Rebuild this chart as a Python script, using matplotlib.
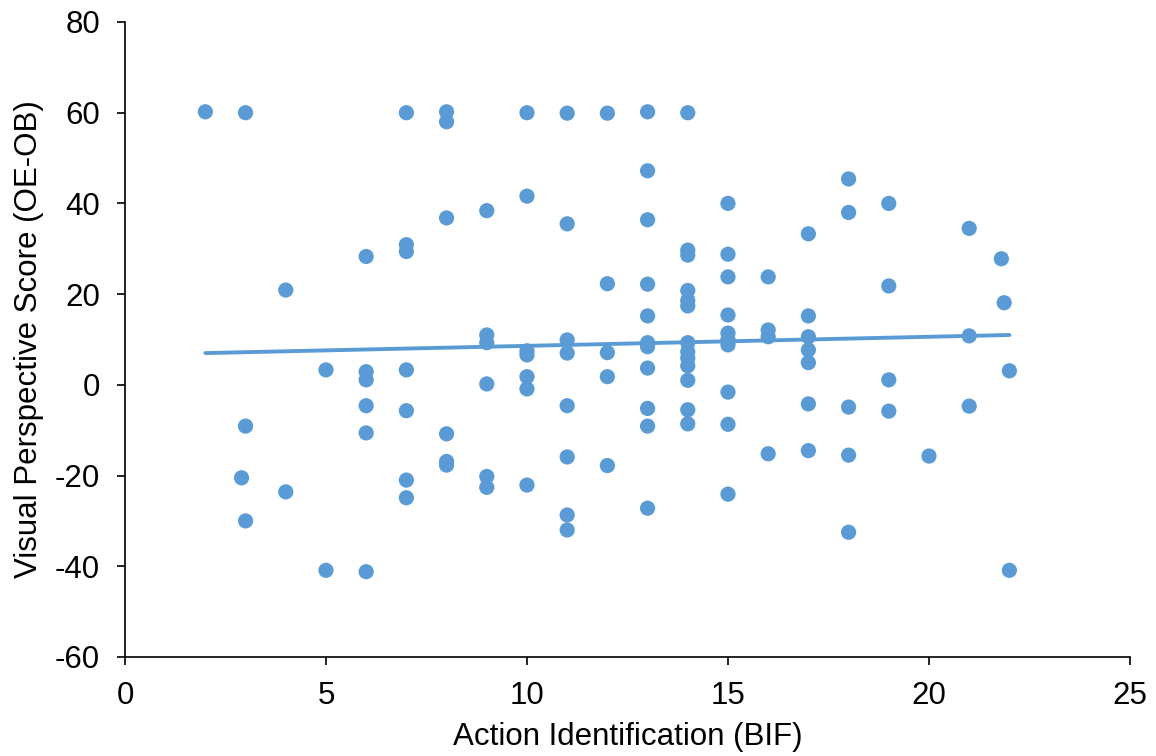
import matplotlib
matplotlib.use("Agg")
import matplotlib.pyplot as plt
import numpy as np

plt.rcParams['font.family'] = ['Liberation Sans', 'DejaVu Sans']
plt.rcParams['axes.unicode_minus'] = False

# Action Identification (BIF) values and Visual Perspective Score (OE-OB)
x_vals = [
    2, 2.9, 3, 3, 3,
    4, 4, 5, 5,
    6, 6, 6, 6, 6, 6,
    7, 7, 7, 7, 7, 7, 7,
    8, 8, 8, 8, 8, 8,
    9, 9, 9, 9, 9, 9,
    10, 10, 10, 10, 10, 10, 10,
    11, 11, 11, 11, 11, 11, 11, 11,
    12, 12, 12, 12, 12,
    13, 13, 13, 13, 13, 13, 13, 13, 13, 13, 13,
    14, 14, 14, 14, 14, 14, 14, 14, 14, 14, 14, 14, 14,
    15, 15, 15, 15, 15, 15, 15, 15, 15, 15,
    16, 16, 16, 16,
    17, 17, 17, 17, 17, 17, 17,
    18, 18, 18, 18, 18,
    19, 19, 19, 19,
    20,
    21, 21, 21,
    21.8, 21.87,
    22, 22,
]
y_vals = [
    60.2, -20.5, 60.0, -9.1, -30.0,
    20.9, -23.6, 3.3, -40.9,
    28.3, 2.9, 1.1, -4.6, -10.6, -41.2,
    60.0, 30.9, 29.4, 3.3, -5.7, -21.0, -24.9,
    60.2, 58.0, 36.8, -10.8, -16.9, -17.7,
    38.4, 11.0, 9.3, 0.2, -20.2, -22.6,
    60.0, 41.6, 7.5, 6.6, 1.8, -0.9, -22.1,
    59.9, 35.5, 9.9, 7.0, -4.6, -15.9, -28.7, -32.0,
    59.9, 22.3, 7.1, 1.8, -17.8,
    60.2, 47.2, 36.4, 22.2, 15.2, 9.3, 8.4, 3.7, -5.2, -9.1, -27.2,
    60.0, 29.7, 28.6, 20.8, 18.6, 17.4, 9.3, 7.3, 5.9, 4.2, 1.0, -5.5, -8.6,
    40.0, 28.8, 23.8, 15.4, 11.4, 10.0, 8.8, -1.6, -8.7, -24.1,
    23.8, 12.1, 10.6, -15.2,
    33.3, 15.2, 10.6, 7.7, 4.9, -4.2, -14.5,
    45.4, 38.0, -4.9, -15.5, -32.5,
    40.0, 21.8, 1.1, -5.8,
    -15.7,
    34.5, 10.8, -4.7,
    27.8, 18.1,
    3.1, -40.9,
]

x_ticks = [0, 5, 10, 15, 20, 25]
y_ticks = [-60, -40, -20, 0, 20, 40, 60, 80]

color = '#5B9BD5'

fig = plt.figure(figsize=(11.56, 7.56), dpi=100)
ax = fig.add_axes([0.1081, 0.131, 0.8694, 0.8399])

x = np.array(x_vals)
y = np.array(y_vals)
ax.scatter(x, y, s=120, color=color, edgecolors='none', zorder=3)

slope, intercept = np.polyfit(x, y, 1)
xl = np.array([x.min(), x.max()])
ax.plot(xl, slope * xl + intercept, color=color, lw=2.8, solid_capstyle='round', zorder=2)

ax.set_xlim(0, 25)
ax.set_ylim(-60, 80)
ax.set_xticks(x_ticks)
ax.set_yticks(y_ticks)
ax.tick_params(axis='both', labelsize=22.5, length=6, width=1.2, color='black', direction='out')
ax.tick_params(axis='y', pad=12)
ax.tick_params(axis='x', pad=11)
for s in ['top', 'right']:
    ax.spines[s].set_visible(False)
for s in ['left', 'bottom']:
    ax.spines[s].set_linewidth(1.2)
    ax.spines[s].set_color('black')

ax.set_xlabel('Action Identification (BIF)', fontsize=22.5, labelpad=8)
ax.set_ylabel('Visual Perspective Score (OE-OB)', fontsize=22.5, labelpad=8)

fig.savefig('out.png', dpi=100)
